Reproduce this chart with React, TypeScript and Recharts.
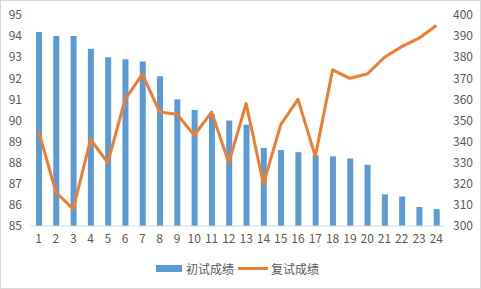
import { Bar, ComposedChart, Legend, Line, XAxis, YAxis } from "recharts";

const BAR_COLOR = "#5B9BD5";
const LINE_COLOR = "#ED7D31";
const TEXT_COLOR = "#595959";
const FONT = "'Noto Sans CJK SC', 'Noto Sans', sans-serif";

const students = Array.from({ length: 24 }, (_, i) => String(i + 1));
const firstScores = [
  94.2, 94.0, 94.0, 93.4, 93.0, 92.9, 92.8, 92.1, 91.0, 90.5, 90.3, 90.0,
  89.8, 88.7, 88.6, 88.5, 88.35, 88.3, 88.2, 87.9, 86.5, 86.4, 85.9, 85.8,
];
const retestScores = [
  345, 316, 308, 341, 330, 360, 372, 354, 353, 343, 354, 330,
  358, 320, 348, 360, 333, 374, 370, 372, 380, 385, 389, 395,
];
const leftTicks = [85, 86, 87, 88, 89, 90, 91, 92, 93, 94, 95];
const rightTicks = [300, 310, 320, 330, 340, 350, 360, 370, 380, 390, 400];

const data = students.map((name, i) => ({
  name,
  first: firstScores[i],
  retest: retestScores[i],
}));

function LegendContent() {
  return (
    <div
      style={{
        display: "flex",
        justifyContent: "center",
        alignItems: "center",
        fontFamily: FONT,
        fontSize: 12,
        color: TEXT_COLOR,
      }}
    >
      <span style={{ display: "inline-block", width: 26, height: 7, background: BAR_COLOR, marginRight: 4 }} />
      <span style={{ marginRight: 4 }}>初试成绩</span>
      <span style={{ display: "inline-block", width: 30, height: 3, background: LINE_COLOR, marginRight: 3 }} />
      <span>复试成绩</span>
    </div>
  );
}

export default function App() {
  const tick = { fill: TEXT_COLOR, fontSize: 12, fontFamily: FONT };
  return (
    <div
      style={{
        position: "absolute",
        left: 0,
        top: 0,
        width: 481,
        height: 289,
        boxSizing: "border-box",
        border: "1px solid #D9D9D9",
        background: "#fff",
      }}
    >
      <ComposedChart
        width={479}
        height={287}
        data={data}
        margin={{ top: 14, right: 5, left: -1, bottom: 8 }}
      >
        <XAxis
          dataKey="name"
          tick={tick}
          tickLine={false}
          axisLine={{ stroke: "#D9D9D9" }}
          height={34}
          interval={0}
        />
        <YAxis
          yAxisId="left"
          domain={[85, 95]}
          ticks={leftTicks}
          tick={tick}
          tickLine={false}
          axisLine={false}
          width={30}
        />
        <YAxis
          yAxisId="right"
          orientation="right"
          domain={[300, 400]}
          ticks={rightTicks}
          tick={tick}
          tickLine={false}
          axisLine={false}
          width={30}
        />
        <Legend verticalAlign="bottom" height={20} content={<LegendContent />} />
        <Bar yAxisId="left" dataKey="first" name="初试成绩" fill={BAR_COLOR} barSize={6} isAnimationActive={false} />
        <Line
          yAxisId="right"
          dataKey="retest"
          name="复试成绩"
          stroke={LINE_COLOR}
          strokeWidth={3}
          dot={false}
          strokeLinejoin="round"
          isAnimationActive={false}
        />
      </ComposedChart>
    </div>
  );
}
